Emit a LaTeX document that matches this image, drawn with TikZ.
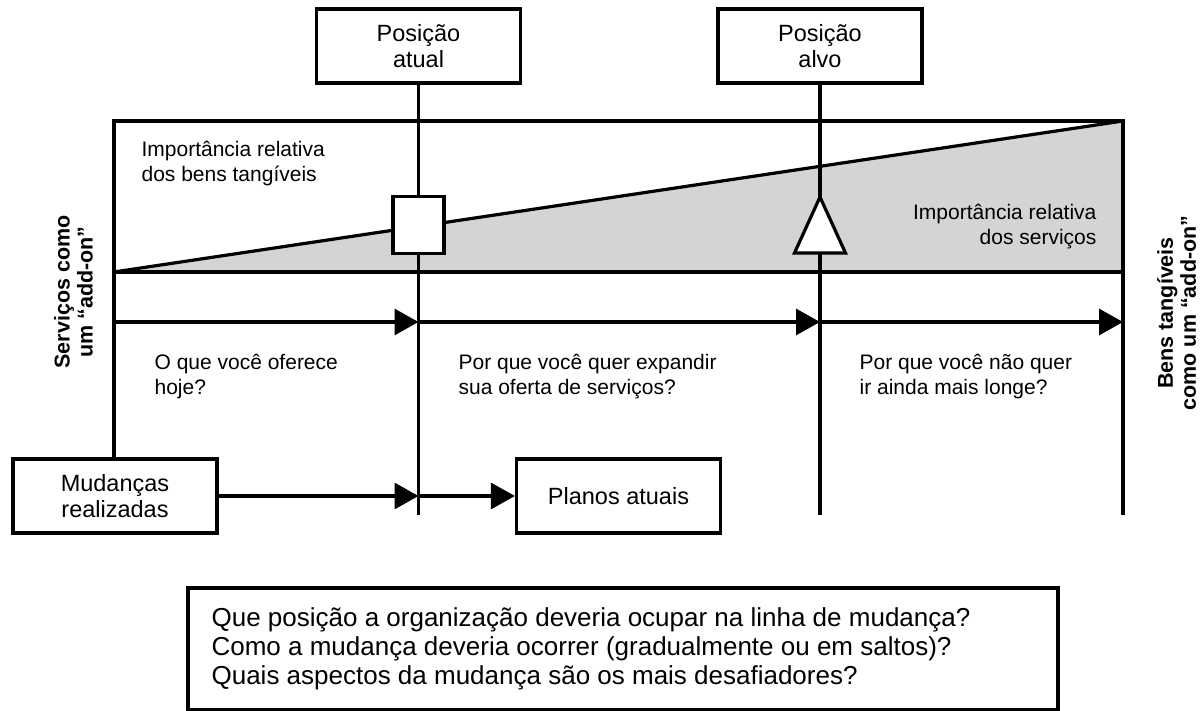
\documentclass[tikz,border=0pt]{standalone}
\usepackage{fontspec}
\setmainfont{Liberation Sans}
\usepackage{xcolor}
\usepackage{tikz}
\definecolor{shadegray}{RGB}{212, 212, 212}
\usetikzlibrary{arrows.meta, positioning, calc}

\begin{document}
\begin{tikzpicture}[
    x=1pt, y=1pt,
    line width=3.2pt,
    box/.style={rectangle, draw, fill=white, minimum width=204pt, minimum height=74pt, align=center, font=\fontsize{23.5}{26.5}\selectfont},
    note/.style={inner sep=0pt, font=\fontsize{21}{25}\selectfont},
    side/.style={inner sep=0pt, align=center, rotate=90, font=\bfseries\fontsize{21.5}{23}\selectfont},
    marker/.style={draw, fill=white},
    arr/.style={-{Triangle[length=24pt, width=26pt]}}
]
    \useasboundingbox (0,0) rectangle (1203,711);

    % corners of the band and helper levels
    \coordinate (tl) at (114,590);
    \coordinate (tr) at (1123,590);
    \coordinate (bl) at (114,439);
    \coordinate (br) at (1123,439);
    \coordinate (row) at (0,389);
    \coordinate (foot) at (0,196);
    \coordinate (mark) at (0,486);

    \node[box] (atual) at (418.5,665) {Posição\\atual};
    \node[box] (alvo) at (820,665) {Posição\\alvo};
    \node[box] (mudancas) at (115,215) {Mudanças\\realizadas};
    \node[box] (planos) at (618.5,215) {Planos atuais};

    % shaded part and band
    \fill[shadegray] (bl) -- (tr) -- (br) -- cycle;
    \draw (bl) rectangle (tr);
    \draw (bl) -- (tr);
    \draw (tl) -- (tl |- mudancas.north);
    \draw (tr) -- (tr |- foot);
    \draw (atual.south) -- (atual.south |- foot);
    \draw (alvo.south) -- (alvo.south |- foot);

    % arrows along the line of change
    \draw[arr] (bl |- row) -- (atual.south |- row);
    \draw[arr] (atual.south |- row) -- (alvo.south |- row);
    \draw[arr] (alvo.south |- row) -- (tr |- row);
    \draw[arr] (mudancas.east) -- (mudancas.east -| atual.south);
    \draw[arr] (mudancas.east -| atual.south) -- (planos.west);

    % markers
    \node[marker, minimum width=51pt, minimum height=57pt, inner sep=0pt] (now) at (atual.south |- mark) {};
    \draw[marker] ($(alvo.south |- mark)+(-25.5,-28)$) -- ++(25.5,56) -- ++(25.5,-56) -- cycle;

    \node[note, anchor=base west, align=left] (tangibles) at (140,529) {Importância relativa\\dos bens tangíveis};
    \node[note, anchor=base east, align=right] (services) at (1098,466) {Importância relativa\\dos serviços};
    \node[note, anchor=base west, align=left] (today) at (153,316) {O que você oferece\\hoje?};
    \node[note, anchor=base west, align=left] (expand) at (457,316) {Por que você quer expandir\\sua oferta de serviços?};
    \node[note, anchor=base west, align=left] (further) at (858,316) {Por que você não quer\\ir ainda mais longe?};

    \node[side] (left) at (73.5,419) {Serviços como\\um “add-on”};
    \node[side] (right) at (1176.5,398) {Bens tangíveis\\como um “add-on”};

    \node[draw, minimum width=870pt, minimum height=122pt] (questions) at (623,62) {};
    \node[inner sep=0pt, anchor=base west, align=left, font=\fontsize{26}{29}\selectfont] (asks) at (210,26) {Que posição a organização deveria ocupar na linha de mudança?\\Como a mudança deveria ocorrer (gradualmente ou em saltos)?\\Quais aspectos da mudança são os mais desafiadores?};
\end{tikzpicture}
\end{document}
